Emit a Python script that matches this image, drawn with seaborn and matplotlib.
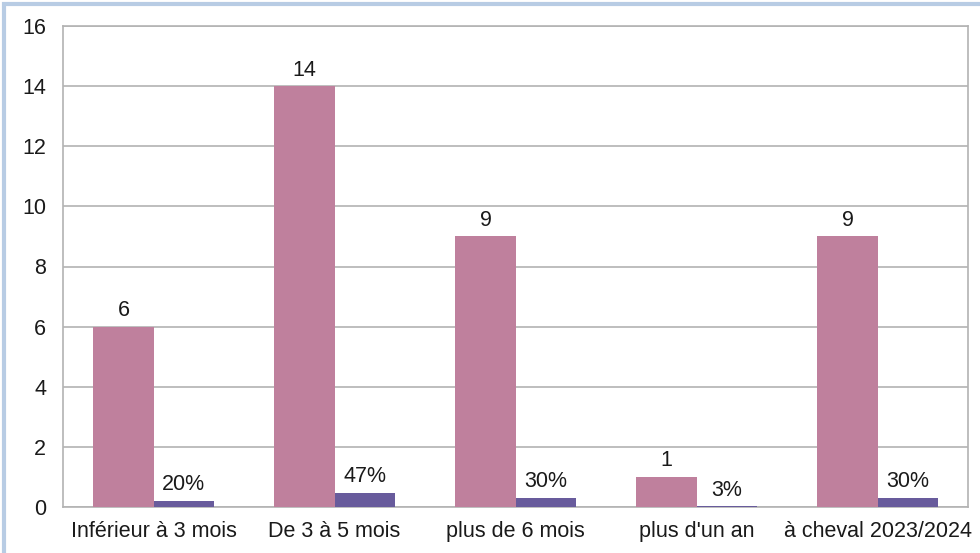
import pandas as pd
import matplotlib
matplotlib.use("Agg")
import matplotlib.pyplot as plt
from matplotlib.patches import Rectangle
import seaborn as sns

# Data
categories = ["Inférieur à 3 mois", "De 3 à 5 mois", "plus de 6 mois", "plus d'un an", "à cheval 2023/2024"]
counts = [6, 14, 9, 1, 9]
shares = [0.20, 0.47, 0.30, 0.03, 0.30]
share_labels = ["20%", "47%", "30%", "3%", "30%"]

df = pd.DataFrame({
    "categorie": categories * 2,
    "valeur": counts + shares,
    "serie": ["Nombre"] * len(categories) + ["Part"] * len(categories),
})

sns.set_style("white")
plt.rcParams['font.family'] = ['Liberation Sans', 'DejaVu Sans']

fig = plt.figure(figsize=(9.8, 5.53), dpi=100)
ax = fig.add_axes([63 / 980, 1 - 507 / 553, (968 - 63) / 980, (507 - 26) / 553])

sns.barplot(data=df, x="categorie", y="valeur", hue="serie",
            palette=["#bf809d", "#685b9c"], width=0.663, saturation=1,
            linewidth=0, legend=False, ax=ax, zorder=3)

# value labels
for container, labels in zip(ax.containers, [[str(c) for c in counts], share_labels]):
    ax.bar_label(container, labels=labels, padding=4, fontsize=15.5, color="#1a1a1a")

ax.set_ylim(0, 16)
ax.set_yticks(range(0, 17, 2))
ax.set_xlim(-0.5, len(categories) - 0.5)
ax.set_xlabel("")
ax.set_ylabel("")
ax.grid(axis="y", color="#b3b3b3", linewidth=1.2, zorder=0)

# category separators below the axis
ax.set_xticks([i - 0.5 for i in range(len(categories) + 1)], minor=True)
ax.tick_params(axis="x", which="minor", length=10, width=1.2, color="#b3b3b3")
ax.tick_params(axis="x", which="major", length=0, pad=10, labelsize=15.5, labelcolor="#1a1a1a")
ax.tick_params(axis="y", length=10, width=1.2, color="#b3b3b3", pad=2, labelsize=15.5, labelcolor="#1a1a1a")

for side in ["left", "right", "top", "bottom"]:
    ax.spines[side].set_color("#b3b3b3")
    ax.spines[side].set_linewidth(1.2)
    ax.spines[side].set_zorder(1)

# light blue frame around the picture
fig.patches.append(Rectangle((4 / 980, -0.2), 1.2, 1.2 - 4 / 553, transform=fig.transFigure,
                             fill=False, edgecolor="#b8cce4", linewidth=3))

fig.savefig("out.png", dpi=100)
